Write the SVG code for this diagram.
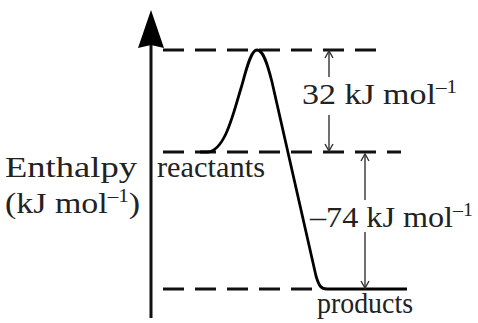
<svg xmlns="http://www.w3.org/2000/svg" width="478" height="323" viewBox="0 0 478 323">
<style>
.t{font-family:"Liberation Serif","Times New Roman",serif;font-size:29px;fill:#222}
.sup{font-size:18px}
.dash{stroke:#111;stroke-width:3;fill:none;stroke-dasharray:21 11}
.arr{stroke:#333;stroke-width:1.4;fill:none}
</style>
<rect width="478" height="323" fill="#fff"/>
<g id="axis">
<line x1="151" y1="318" x2="151" y2="40" stroke="#111" stroke-width="3"/>
<polygon points="151,10 164,48 151,45 138,48" fill="#000"/>
</g>
<g id="levels">
<line class="dash" x1="163" y1="50" x2="378" y2="50"/>
<line class="dash" x1="163" y1="152" x2="401" y2="152"/>
<line class="dash" x1="163" y1="289" x2="316" y2="289"/>
</g>
<g id="curve">
<path d="M200,152 L208,152 C226,150 234,110 242,85 C248,62 252,50 257,50 C263,50 267,62 272,82 L316,276 C319,286 321,289 327,289 L407,289" stroke="#000" stroke-width="2.8" fill="none"/>
</g>
<g id="connectors">
<line class="arr" x1="329" y1="51" x2="329" y2="77"/>
<polyline class="arr" points="325,58 329,51 333,58"/>
<line class="arr" x1="329" y1="115" x2="329" y2="151"/>
<polyline class="arr" points="325,144 329,151 333,144"/>
<line class="arr" x1="365" y1="154" x2="365" y2="200"/>
<polyline class="arr" points="361,161 365,154 369,161"/>
<line class="arr" x1="365" y1="232" x2="365" y2="288"/>
<polyline class="arr" points="361,281 365,288 369,281"/>
</g>
<g id="labels">
<text class="t" x="5" y="177" textLength="132" lengthAdjust="spacingAndGlyphs">Enthalpy</text>
<text class="t" x="5" y="213" textLength="135" lengthAdjust="spacingAndGlyphs">(kJ mol<tspan class="sup" dy="-11">–1</tspan><tspan dy="11">)</tspan></text>
<text class="t" x="157" y="177" textLength="108" lengthAdjust="spacingAndGlyphs">reactants</text>
<text class="t" x="302" y="104" textLength="155" lengthAdjust="spacingAndGlyphs">32 kJ mol<tspan class="sup" dy="-11">–1</tspan></text>
<text class="t" x="310" y="227" textLength="163" lengthAdjust="spacingAndGlyphs">–74 kJ mol<tspan class="sup" dy="-11">–1</tspan></text>
<text class="t" x="317" y="313" textLength="96" lengthAdjust="spacingAndGlyphs">products</text>
</g>
</svg>
